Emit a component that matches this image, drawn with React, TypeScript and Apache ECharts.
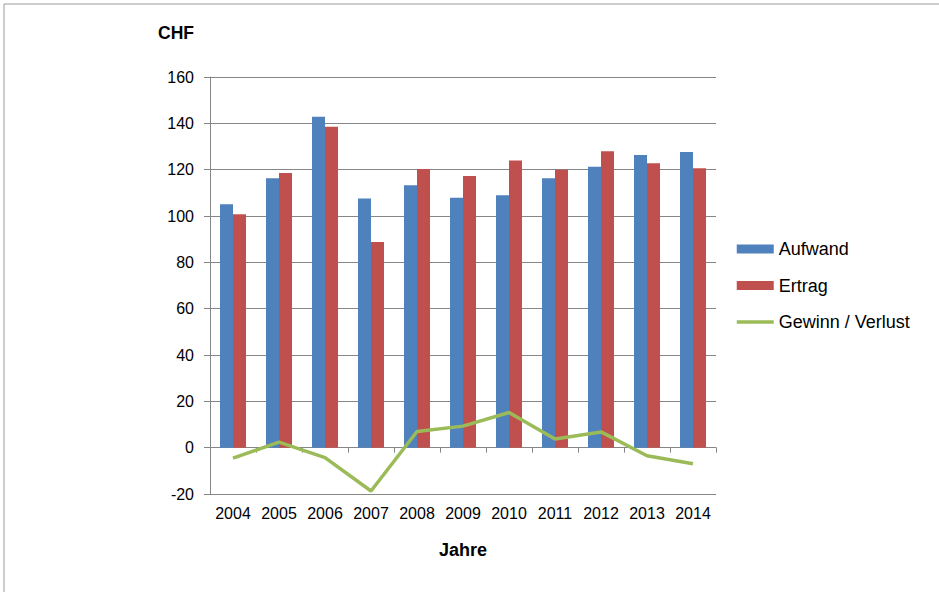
import React, { useEffect, useRef } from "react";
import * as echarts from "echarts";

const years = ["2004", "2005", "2006", "2007", "2008", "2009", "2010", "2011", "2012", "2013", "2014"];
const aufwand = [105.1, 116.3, 142.8, 107.5, 113.3, 107.9, 109.0, 116.3, 121.3, 126.3, 127.6];
const ertrag = [100.8, 118.6, 138.5, 88.8, 120.3, 117.3, 124.0, 120.0, 127.9, 122.8, 120.6];
const gewinn = [-4.5, 2.4, -4.3, -18.7, 7.0, 9.3, 15.2, 3.7, 6.8, -3.5, -6.9];

export default function App() {
  const ref = useRef<HTMLDivElement>(null);
  useEffect(() => {
    if (!ref.current) return;
    const chart = echarts.init(ref.current, undefined, { renderer: "svg" });
    const font = "'Liberation Sans', Arial, sans-serif";
    chart.setOption({
      animation: false,
      textStyle: { fontFamily: font },
      graphic: [
        {
          type: "rect",
          shape: { x: 4, y: 4, width: 1000, height: 700 },
          style: { fill: "none", stroke: "#9a9a9a", lineWidth: 1 },
          silent: true,
        },
      ],
      grid: { left: 210, right: 223, top: 77, bottom: 98 },
      legend: {
        orient: "vertical",
        left: 730,
        top: 235,
        itemWidth: 37,
        itemHeight: 9,
        itemGap: 18.5,
        textStyle: { fontSize: 18, color: "#000", fontFamily: font },
        data: [
          { name: "Aufwand", icon: "rect" },
          { name: "Ertrag", icon: "rect" },
          {
            name: "Gewinn / Verlust",
            itemStyle: { opacity: 0 },
            lineStyle: { width: 3.5, color: "#9BBB59" },
          },
        ],
      },
      xAxis: [
        {
          type: "category",
          data: years,
          axisLine: { onZero: true, lineStyle: { color: "#868686", width: 1 } },
          axisTick: { show: true, length: 5, lineStyle: { color: "#868686" } },
          axisLabel: { show: false },
          splitLine: { show: false },
        },
        {
          type: "category",
          data: years,
          position: "bottom",
          axisLine: { show: false, onZero: false },
          axisTick: { show: false },
          axisLabel: { color: "#000", fontSize: 16, margin: 11, interval: 0, fontFamily: font },
          name: "Jahre",
          nameLocation: "middle",
          nameGap: 47,
          nameTextStyle: { fontSize: 18, fontWeight: "bold", color: "#000", fontFamily: font },
        },
      ],
      yAxis: {
        type: "value",
        min: -20,
        max: 160,
        interval: 20,
        name: "CHF",
        nameLocation: "end",
        nameGap: 44,
        nameTextStyle: {
          fontSize: 17.5,
          fontWeight: "bold",
          color: "#000",
          align: "right",
          verticalAlign: "middle",
          padding: [0, 16, 0, 0],
          fontFamily: font,
        },
        axisLine: { show: true, lineStyle: { color: "#868686", width: 1 } },
        axisTick: { show: true, length: 6, lineStyle: { color: "#868686" } },
        axisLabel: { color: "#000", fontSize: 16, margin: 16, fontFamily: font },
        splitLine: { lineStyle: { color: "#868686", width: 1 } },
      },
      series: [
        {
          name: "Aufwand",
          type: "bar",
          data: aufwand,
          barWidth: 13,
          barGap: "0%",
          itemStyle: { color: "#4F81BD" },
        },
        {
          name: "Ertrag",
          type: "bar",
          data: ertrag,
          barWidth: 13,
          barGap: "0%",
          itemStyle: { color: "#C0504D" },
        },
        {
          name: "Gewinn / Verlust",
          type: "line",
          data: gewinn,
          symbol: "none",
          lineStyle: { color: "#9BBB59", width: 3.5 },
          itemStyle: { color: "#9BBB59" },
        },
      ],
    });
    return () => chart.dispose();
  }, []);
  return (
    <div
      ref={ref}
      style={{ position: "absolute", left: 0, top: 0, width: 939, height: 592, background: "#fff" }}
    />
  );
}
